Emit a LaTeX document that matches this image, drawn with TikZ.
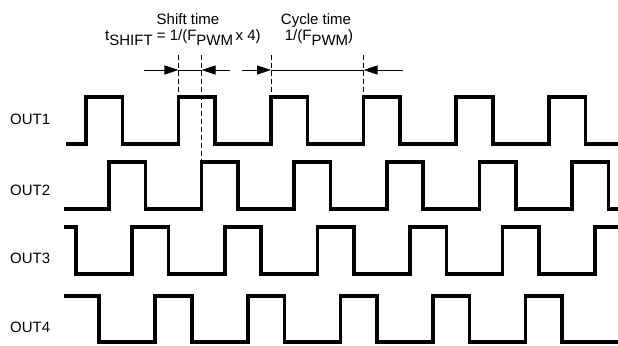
\documentclass[tikz,border=0pt]{standalone}
\usepackage{fontspec}
\setmainfont{Liberation Sans}
\usetikzlibrary{arrows.meta}
\begin{document}
\begin{tikzpicture}[x=1bp,y=-1bp,
  sig/.style={line width=3.6bp, line join=miter},
  lbl/.style={font=\fontsize{15bp}{18bp}\selectfont, inner sep=0pt},
  guide/.style={line width=0.9bp, dash pattern=on 5bp off 3bp},
  dimline/.style={line width=0.9bp},
  tipped/.style={line width=0.9bp, -{Triangle[length=14bp,width=9bp]}}
]
\useasboundingbox (0,0) rectangle (618,345);
\newcommand\subtxt[1]{\raisebox{-4.5bp}{#1}}
% labels
\node[lbl, anchor=base west] (l1) at (10,124) {OUT1};
\node[lbl, anchor=base west] (l2) at (10,195) {OUT2};
\node[lbl, anchor=base west] (l3) at (10,263) {OUT3};
\node[lbl, anchor=base west] (l4) at (10,332) {OUT4};
% header texts
\node[lbl, anchor=base] (shift) at (188,24) {Shift time};
\node[lbl, anchor=base west] (shiftf) at (105,40.5) {t\subtxt{SHIFT} = 1/(F\subtxt{PWM}\,x 4)};
\node[lbl, anchor=base] (cycle) at (316,24) {Cycle time};
\node[lbl, anchor=base] (cyclef) at (319,40.5) {1/(F\subtxt{PWM})};
% signals
\draw[sig] (66,144) foreach \r in {85.8,178.4,271,363.6,456.2,548.8}
  { -- (\r,144) -- (\r,97) -- (\r+36.5,97) -- (\r+36.5,144) } -- (618,144);
\draw[sig] (64,209) foreach \r in {108.95,201.55,294.15,386.75,479.35,571.95}
  { -- (\r,209) -- (\r,162) -- (\r+36.5,162) -- (\r+36.5,209) } -- (618,209);
\draw[sig] (64,227) -- (76,227) -- (76,274) foreach \r in {132.1,224.7,317.3,409.9,502.5}
  { -- (\r,274) -- (\r,227) -- (\r+36.5,227) -- (\r+36.5,274) } -- (595.1,274) -- (595.1,227) -- (618,227);
\draw[sig] (64,296) -- (99.15,296) -- (99.15,342) foreach \r in {155.25,247.85,340.45,433.05,525.65}
  { -- (\r,342) -- (\r,296) -- (\r+36.5,296) -- (\r+36.5,342) } -- (618,342);
% guide lines
\coordinate (g1t) at (178.4,55); \coordinate (g1b) at (178.4,96);
\coordinate (g2t) at (201.5,55); \coordinate (g2b) at (201.5,160);
\coordinate (g3t) at (271,55);   \coordinate (g3b) at (271,96);
\coordinate (g4t) at (363.6,55); \coordinate (g4b) at (363.6,96);
\draw[guide] (g1t) -- (g1b);
\draw[guide] (g2t) -- (g2b);
\draw[guide] (g3t) -- (g3b);
\draw[guide] (g4t) -- (g4b);
% dimension arrows
\coordinate (a1) at (144,70);   \coordinate (d1) at (178.4,70);
\coordinate (a2) at (230,70);   \coordinate (d2) at (201.5,70);
\coordinate (a3) at (242,70);   \coordinate (d3) at (271,70);
\coordinate (a4) at (403,70);   \coordinate (d4) at (363.6,70);
\draw[tipped] (a1) -- (d1);
\draw[tipped] (a2) -- (d2);
\draw[dimline] (d1) -- (d2);
\draw[tipped] (a3) -- (d3);
\draw[tipped] (a4) -- (d4);
\draw[dimline] (d3) -- (d4);
\end{tikzpicture}
\end{document}
